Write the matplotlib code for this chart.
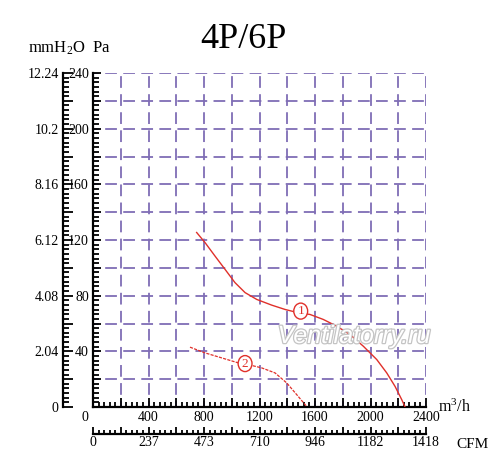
import matplotlib
matplotlib.use("Agg")
from matplotlib import pyplot as plt
from matplotlib.ticker import FixedLocator, FixedFormatter, MultipleLocator
from matplotlib.patches import Ellipse
from matplotlib.transforms import ScaledTranslation
import matplotlib.patheffects as pe

plt.rcParams["font.family"] = ["Liberation Serif", "DejaVu Serif"]
plt.rcParams["mathtext.fontset"] = "custom"
plt.rcParams["mathtext.rm"] = "Liberation Serif"
plt.rcParams["mathtext.it"] = "Liberation Serif"

# curve 1 (4P)
flow_1 = [747, 807, 879, 951, 1023, 1096, 1180, 1288, 1384, 1480, 1564, 1660,
          1756, 1852, 1948, 2045, 2117, 2177, 2225, 2249]
pres_1 = [125.4, 118.2, 108.5, 99.0, 89.4, 82.2, 77.3, 73.2, 70.1, 67.7, 66.5,
          62.9, 58.1, 52.1, 43.7, 34.1, 24.5, 14.8, 5.3, 0.0]
# curve 2 (6P)
flow_2 = [699, 807, 927, 1047, 1096, 1216, 1312, 1396, 1468, 1540]
pres_2 = [43.0, 38.9, 35.3, 31.7, 31.0, 28.1, 24.5, 17.3, 8.9, 0.4]

# numbered markers on the curves
marker_flow = [1497, 1096]
marker_pres = [68.9, 31.2]
marker_text = ["1", "2"]

pa_labels = ["", "40", "80", "120", "160", "200", "240"]
mm_labels = ["0", "2.04", "4.08", "6.12", "8.16", "10.2", "12.24"]
flow_labels = ["0", "400", "800", "1200", "1600", "2000", "2400"]
cfm_labels = ["0", "237", "473", "710", "946", "1182", "1418"]

GRID = "#7f6db5"
RED = "#e0302a"
TICK_FS = 10

fig = plt.figure(figsize=(5.0, 4.72), dpi=100)
L, B, W, H = 93 / 500, 1 - 407 / 472, 333 / 500, 334 / 472
ax = fig.add_axes([L, B, W, H])
ax.set_xlim(0, 2400)
ax.set_ylim(0, 240)

# dashed grid, dash pattern tied to half a cell
dash = (3.25, (6.5, 3.5))
for x in range(200, 2401, 200):
    ax.axvline(x, color=GRID, lw=1.3, ls=dash, zorder=1)
for y in range(20, 241, 20):
    ax.axhline(y, color=GRID, lw=1.3, ls=dash, zorder=1)

for s in ["top", "right"]:
    ax.spines[s].set_visible(False)
for s in ["left", "bottom"]:
    ax.spines[s].set_linewidth(1.6)

# Pa axis (left spine)
ax.yaxis.set_major_locator(FixedLocator(list(range(0, 241, 20))))
ax.yaxis.set_major_formatter(FixedFormatter(
    [pa_labels[v // 40] if v % 40 == 0 else "" for v in range(0, 241, 20)]))
ax.yaxis.set_minor_locator(MultipleLocator(20 / 6))
ax.tick_params(axis="y", which="major", direction="in", length=6, width=1.3,
               pad=3, labelsize=TICK_FS)
ax.tick_params(axis="y", which="minor", direction="in", length=4, width=1.3)

# m3/h axis (bottom spine)
ax.xaxis.set_major_locator(FixedLocator(list(range(0, 2401, 200))))
ax.xaxis.set_major_formatter(FixedFormatter(
    [flow_labels[v // 400] if v % 400 == 0 else "" for v in range(0, 2401, 200)]))
ax.xaxis.set_minor_locator(MultipleLocator(40))
ax.tick_params(axis="x", which="major", direction="in", length=6.5, width=1.3,
               pad=3, labelsize=TICK_FS)
ax.tick_params(axis="x", which="minor", direction="in", length=3.5, width=1.3)
zero = ax.get_xticklabels()[0]
zero.set_transform(zero.get_transform()
                   + ScaledTranslation(-0.08, 0, fig.dpi_scale_trans))

# curves
ax.plot(flow_1, pres_1, color=RED, lw=1.0, zorder=3)
ax.plot(flow_2, pres_2, color=RED, lw=0.9, ls=(0, (2.5, 1)), zorder=3)
for cx, cy, lab in zip(marker_flow, marker_pres, marker_text):
    ax.add_patch(Ellipse((cx, cy), 100, 11.5, facecolor="white", edgecolor=RED,
                         lw=1.0, zorder=4))
    ax.text(cx, cy, lab, color=RED, fontsize=9.5, ha="center", va="center",
            zorder=5)

# mmH2O axis
ax_mm = fig.add_axes([63 / 500, B, 0.0001, H])
ax_mm.set_ylim(0, 240)
ax_mm.patch.set_visible(False)
for s in ["top", "right", "bottom"]:
    ax_mm.spines[s].set_visible(False)
ax_mm.spines["left"].set_linewidth(1.6)
ax_mm.set_xticks([])
ax_mm.yaxis.set_major_locator(FixedLocator(list(range(0, 241, 20))))
ax_mm.yaxis.set_major_formatter(FixedFormatter(
    [mm_labels[v // 40] if v % 40 == 0 else "" for v in range(0, 241, 20)]))
ax_mm.yaxis.set_minor_locator(MultipleLocator(20 / 6))
ax_mm.tick_params(axis="y", which="major", direction="in", length=7, width=1.3,
                  pad=3, labelsize=TICK_FS)
ax_mm.tick_params(axis="y", which="minor", direction="in", length=4.5, width=1.3)

# CFM axis
ax_cfm = fig.add_axes([L, 1 - 433.5 / 472, W, 0.0001])
ax_cfm.set_xlim(0, 2400)
ax_cfm.patch.set_visible(False)
for s in ["top", "right", "left"]:
    ax_cfm.spines[s].set_visible(False)
ax_cfm.spines["bottom"].set_linewidth(1.6)
ax_cfm.set_yticks([])
ax_cfm.xaxis.set_major_locator(FixedLocator(list(range(0, 2401, 200))))
ax_cfm.xaxis.set_major_formatter(FixedFormatter(
    [cfm_labels[v // 400] if v % 400 == 0 else "" for v in range(0, 2401, 200)]))
ax_cfm.xaxis.set_minor_locator(MultipleLocator(40))
ax_cfm.tick_params(axis="x", which="major", direction="in", length=5, width=1.3,
                   pad=2, labelsize=TICK_FS)
ax_cfm.tick_params(axis="x", which="minor", direction="in", length=3, width=1.3)

# titles and units
fig.text(243 / 500, 1 - 39 / 472, "4P/6P", fontsize=26, ha="center", va="center")
fig.text(28 / 500, 1 - 48 / 472, "mmH$_2$O  Pa", fontsize=12, ha="left",
         va="center")
fig.text(438 / 500, 1 - 407 / 472, "m$^3$/h", fontsize=11.5, ha="left",
         va="center")
fig.text(456 / 500, 1 - 444 / 472, "CFM", fontsize=11, ha="left", va="center")

wm = fig.text(354 / 500, 1 - 336 / 472, "Ventilatorry.ru", fontsize=18,
              family="Liberation Sans", style="italic", color="white",
              ha="center", va="center", zorder=2)
wm.set_path_effects([pe.withStroke(linewidth=1.8, foreground="#c4c4c4")])

fig.savefig("out.png", dpi=100)
